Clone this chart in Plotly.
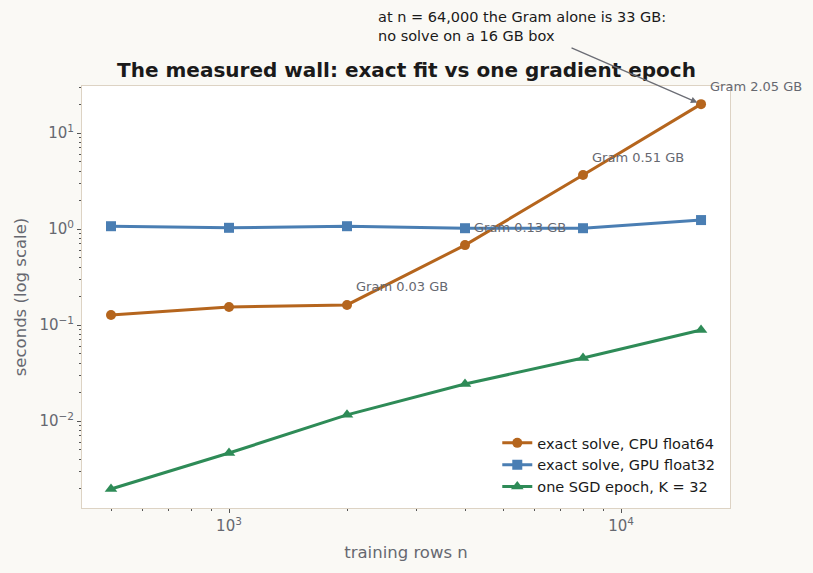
import math
import plotly.graph_objects as go

n_rows = [500, 1000, 2000, 4000, 8000, 16000]
cpu_f64 = [0.127, 0.154, 0.162, 0.68, 3.65, 20.0]
gpu_f32 = [1.07, 1.03, 1.07, 1.02, 1.02, 1.24]
sgd_epoch = [0.00196, 0.00464, 0.0116, 0.0243, 0.0453, 0.0887]
gram_n = [2000, 4000, 8000, 16000]
gram_gb = [0.03, 0.13, 0.51, 2.05]

FONT = "DejaVu Sans"
GRAY = "#666870"

fig = go.Figure()
series = [
    ("exact solve, CPU float64", cpu_f64, "#b5651d", "circle", 10),
    ("exact solve, GPU float32", gpu_f32, "#4a7eb3", "square", 10),
    ("one SGD epoch, K = 32", sgd_epoch, "#2e8b57", "triangle-up", 11),
]
for name, ys, col, sym, ms in series:
    fig.add_trace(go.Scatter(x=n_rows, y=ys, name=name, mode="lines+markers",
                             line=dict(color=col, width=3),
                             marker=dict(symbol=sym, size=ms, color=col)))

gy = dict(zip(n_rows, cpu_f64))
for n, g in zip(gram_n, gram_gb):
    fig.add_annotation(x=math.log10(n), y=math.log10(gy[n]), xref="x", yref="y",
                       text=f"Gram {g:.2f} GB",
                       showarrow=False, xanchor="left", yanchor="middle",
                       xshift=7, yshift=18, font=dict(family=FONT, size=13, color=GRAY))

fig.add_annotation(x=math.log10(16000), y=math.log10(cpu_f64[-1]), xref="x", yref="y", text="",
                   showarrow=True, ax=-131, ay=-57, axref="pixel", ayref="pixel",
                   arrowhead=2, arrowsize=1, arrowwidth=1.3, arrowcolor="#6b6d75", standoff=4)
fig.add_annotation(x=(376 - 82) / 648, y=(508 - 26.5) / 422, xref="paper", yref="paper",
                   text="at n = 64,000 the Gram alone is 33 GB:<br>no solve on a 16 GB box",
                   showarrow=False, xanchor="left", yanchor="middle", align="left",
                   font=dict(family=FONT, size=14.5, color="#1a1a1a"))

minor_x = [v * m for v in (100, 1000, 10000) for m in range(2, 10)]
minor_y = [v * m for v in (0.001, 0.01, 0.1, 1, 10) for m in range(2, 10)]

axis_common = dict(showline=True, linecolor="#ddd3c4", linewidth=1, mirror=True,
                   showgrid=False, zeroline=False, ticks="outside", ticklen=4,
                   tickcolor="#555", tickfont=dict(family=FONT, size=15, color=GRAY))

fig.update_xaxes(type="log", range=[2.625, 4.278],
                 tickvals=[1000, 10000], ticktext=["10<sup>3</sup>", "10<sup>4</sup>"],
                 minor=dict(tickvals=minor_x, ticks="outside", ticklen=2, tickcolor="#555"),
                 title=dict(text="training rows n", font=dict(family=FONT, size=16.5, color=GRAY), standoff=12),
                 **axis_common)
fig.update_yaxes(type="log", range=[-2.906, 1.49],
                 tickvals=[0.01, 0.1, 1, 10],
                 ticktext=["10<sup>\u22122</sup>", "10<sup>\u22121</sup>", "10<sup>0</sup>", "10<sup>1</sup>"],
                 minor=dict(tickvals=minor_y, ticks="outside", ticklen=2, tickcolor="#555"),
                 title=dict(text="seconds (log scale)", font=dict(family=FONT, size=16.5, color=GRAY), standoff=8),
                 **axis_common)

fig.update_layout(
    width=813, height=573,
    margin=dict(l=82, r=83, t=86, b=65),
    paper_bgcolor="#faf9f5", plot_bgcolor="#ffffff",
    font=dict(family=FONT, color=GRAY),
    title=dict(text="<b>The measured wall: exact fit vs one gradient epoch</b>",
               x=0.5, xanchor="center", y=1 - 70 / 573, yanchor="middle", yref="container",
               font=dict(family=FONT, size=20, color="#1a1a1a")),
    legend=dict(x=0.985, y=0.012, xanchor="right", yanchor="bottom",
                bgcolor="rgba(255,255,255,0.8)", borderwidth=0,
                font=dict(family=FONT, size=14.5, color="#1a1a1a"),
                itemwidth=30, tracegroupgap=0),
    showlegend=True,
)

fig.write_html("out.html")
